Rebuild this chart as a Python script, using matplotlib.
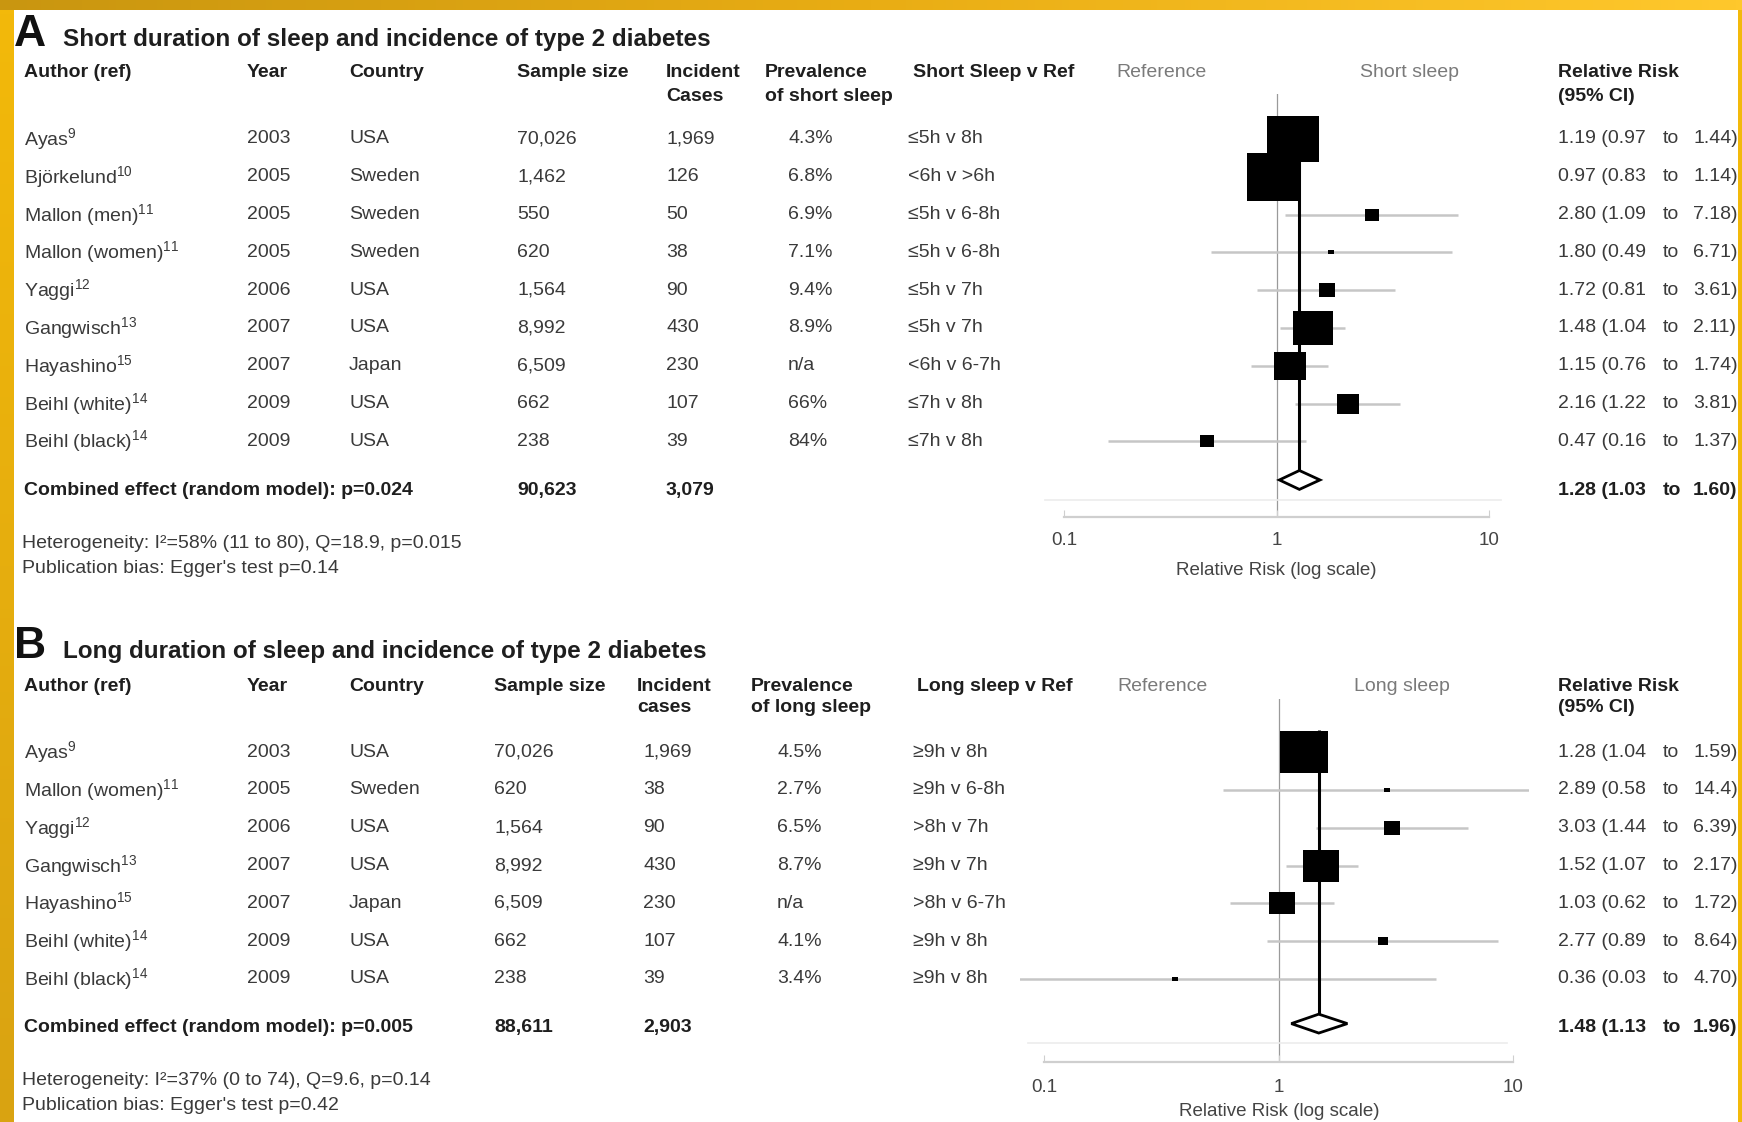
import numpy as np
import matplotlib
matplotlib.use("Agg")
import matplotlib.pyplot as plt
from matplotlib.transforms import blended_transform_factory
from matplotlib.path import Path
from matplotlib.lines import Line2D
from matplotlib.colors import LinearSegmentedColormap

W, H = 1742, 1122

plt.rcParams['font.family'] = ['Liberation Sans', 'DejaVu Sans']
plt.rcParams['mathtext.fontset'] = 'custom'
plt.rcParams['mathtext.rm'] = 'Liberation Sans'
plt.rcParams['mathtext.it'] = 'Liberation Sans:italic'
plt.rcParams['mathtext.bf'] = 'Liberation Sans:bold'

# --------------------------------------------------------------------------
# Panel A: short sleep
a_authors = ['Ayas$^{9}$', 'Björkelund$^{10}$', 'Mallon (men)$^{11}$', 'Mallon (women)$^{11}$',
             'Yaggi$^{12}$', 'Gangwisch$^{13}$', 'Hayashino$^{15}$', 'Beihl (white)$^{14}$',
             'Beihl (black)$^{14}$']
a_years = ['2003', '2005', '2005', '2005', '2006', '2007', '2007', '2009', '2009']
a_countries = ['USA', 'Sweden', 'Sweden', 'Sweden', 'USA', 'USA', 'Japan', 'USA', 'USA']
a_samples = ['70,026', '1,462', '550', '620', '1,564', '8,992', '6,509', '662', '238']
a_cases = ['1,969', '126', '50', '38', '90', '430', '230', '107', '39']
a_prev = ['4.3%', '6.8%', '6.9%', '7.1%', '9.4%', '8.9%', 'n/a', '66%', '84%']
a_compare = ['≤5h v 8h', '<6h v >6h', '≤5h v 6-8h', '≤5h v 6-8h', '≤5h v 7h',
             '≤5h v 7h', '<6h v 6-7h', '≤7h v 8h', '≤7h v 8h']
a_rr = [1.19, 0.97, 2.80, 1.80, 1.72, 1.48, 1.15, 2.16, 0.47]
a_lo = [0.97, 0.83, 1.09, 0.49, 0.81, 1.04, 0.76, 1.22, 0.16]
a_hi = [1.44, 1.14, 7.18, 6.71, 3.61, 2.11, 1.74, 3.81, 1.37]
a_weights = [28.3, 31.6, 2.0, 0.3, 2.8, 16.7, 11.4, 5.1, 1.8]
a_pooled = (1.28, 1.03, 1.60)
a_totals = ('90,623', '3,079')
a_pvalue = 'p=0.024'
a_notes = ['Heterogeneity: I²=58% (11 to 80), Q=18.9, p=0.015',
           "Publication bias: Egger's test p=0.14"]

# Panel B: long sleep
b_authors = ['Ayas$^{9}$', 'Mallon (women)$^{11}$', 'Yaggi$^{12}$', 'Gangwisch$^{13}$',
             'Hayashino$^{15}$', 'Beihl (white)$^{14}$', 'Beihl (black)$^{14}$']
b_years = ['2003', '2005', '2006', '2007', '2007', '2009', '2009']
b_countries = ['USA', 'Sweden', 'USA', 'USA', 'Japan', 'USA', 'USA']
b_samples = ['70,026', '620', '1,564', '8,992', '6,509', '662', '238']
b_cases = ['1,969', '38', '90', '430', '230', '107', '39']
b_prev = ['4.5%', '2.7%', '6.5%', '8.7%', 'n/a', '4.1%', '3.4%']
b_compare = ['≥9h v 8h', '≥9h v 6-8h', '>8h v 7h', '≥9h v 7h', '>8h v 6-7h',
             '≥9h v 8h', '≥9h v 8h']
b_rr = [1.28, 2.89, 3.03, 1.52, 1.03, 2.77, 0.36]
b_lo = [1.04, 0.58, 1.44, 1.07, 0.62, 0.89, 0.03]
b_hi = [1.59, 14.4, 6.39, 2.17, 1.72, 8.64, 4.70]
b_weights = [49.6, 0.6, 5.9, 27.9, 13.5, 1.9, 0.6]
b_pooled = (1.48, 1.13, 1.96)
b_totals = ('88,611', '2,903')
b_pvalue = 'p=0.005'
b_notes = ['Heterogeneity: I²=37% (0 to 74), Q=9.6, p=0.14',
           "Publication bias: Egger's test p=0.42"]

# --------------------------------------------------------------------------
FS = 14
HEAD_INK = '#1e1e1e'
ROW_INK = '#3a3a3a'
SOFT_INK = '#7a7a7a'
CI_GREY = '#c6c6c6'

# slightly wide rectangle used as the study-weight box
BOX = Path([(-1.15, -1), (1.15, -1), (1.15, 1), (-1.15, 1), (-1.15, -1)],
           [Path.MOVETO, Path.LINETO, Path.LINETO, Path.LINETO, Path.CLOSEPOLY])


def fmt_ci(v):
    return f"{v:.1f}" if v >= 10 else f"{v:.2f}"


def draw_panel(fig, d, lay):
    r0, step = lay['row0'], lay['step']
    ybot, ytop = lay['ylim']
    top_px, bot_px = r0 + ytop * step, r0 + ybot * step
    left_px, right_px = lay['ax_x']
    ax = fig.add_axes([left_px / W, 1 - bot_px / H,
                       (right_px - left_px) / W, (bot_px - top_px) / H])
    ax.set_xscale('log')
    p01, p10 = lay['dec']
    dec = (p10 - p01) / 2
    ax.set_xlim(10 ** (-1 + (left_px - p01) / dec), 10 ** (-1 + (right_px - p01) / dec))
    ax.set_ylim(ybot, ytop)
    ax.patch.set_alpha(0)
    for s in ('top', 'left', 'right'):
        ax.spines[s].set_visible(False)
    ax.spines['bottom'].set_bounds(0.1, 10)
    ax.spines['bottom'].set_color('#cfcfcf')
    ax.spines['bottom'].set_linewidth(1.6)
    ax.set_yticks([])
    ax.set_xticks([0.1, 1, 10])
    ax.set_xticklabels(['0.1', '1', '10'])
    ax.minorticks_off()
    ax.tick_params(axis='x', direction='in', length=5, color='#cfcfcf',
                   labelsize=13.5, labelcolor='#444444', pad=lay['tick_pad'])

    tr = blended_transform_factory(fig.transFigure, ax.transData)
    c = lay['cols']

    def put(xpx, row, s, **kw):
        kw.setdefault('color', ROW_INK)
        kw.setdefault('fontsize', FS)
        kw.setdefault('va', 'center')
        fig.text(xpx / W, row, s, transform=tr, **kw)

    # panel letter and title
    put(14, lay['title_row'], d['letter'], fontsize=32, weight='bold',
        color='#111111', va='baseline')
    put(63, lay['title_row'], d['title'], fontsize=17.5, weight='bold',
        color=HEAD_INK, va='baseline')

    # column headers
    h1, h2 = lay['head_rows']
    hk = dict(weight='bold', color=HEAD_INK)
    put(c['author'], h1, 'Author (ref)', **hk)
    put(c['year'], h1, 'Year', **hk)
    put(c['country'], h1, 'Country', **hk)
    put(c['sample'], h1, 'Sample size', **hk)
    put(c['cases_head'], h1, 'Incident', **hk)
    put(c['cases_head'], h2, d['cases_word'], **hk)
    put(c['prev_head'], h1, 'Prevalence', **hk)
    put(c['prev_head'], h2, d['prev_word'], **hk)
    put(c['cmp_head'], h1, d['cmp_head'], **hk)
    put(c['ref'], h1, 'Reference', color=SOFT_INK)
    put(c['side'], h1, d['side_head'], color=SOFT_INK)
    put(c['rr'], h1, 'Relative Risk', **hk)
    put(c['rr'], h2, '(95% CI)', **hk)

    rows = np.arange(len(d['rr']))
    for i in rows:
        put(c['author'], i, d['authors'][i])
        put(c['year'], i, d['years'][i])
        put(c['country'], i, d['countries'][i])
        put(c['sample'], i, d['samples'][i])
        put(c['cases'], i, d['cases'][i])
        put(c['prev'], i, d['prev'][i])
        put(c['cmp'], i, d['compare'][i])
        put(c['rr'], i, f"{d['rr'][i]:.2f} ({fmt_ci(d['lo'][i])}")
        put(c['rr_to'], i, 'to')
        put(c['rr_hi'], i, f"{fmt_ci(d['hi'][i])})")

    # pooled row
    est, lo, hi = d['pooled']
    cr = lay['comb_row']
    bk = dict(weight='bold', color=HEAD_INK)
    put(c['author'], cr, 'Combined effect (random model): ' + d['pvalue'], **bk)
    put(c['sample'], cr, d['totals'][0], **bk)
    put(c['cases'], cr, d['totals'][1], **bk)
    put(c['rr'], cr, f"{est:.2f} ({fmt_ci(lo)}", **bk)
    put(c['rr_to'], cr, 'to', **bk)
    put(c['rr_hi'], cr, f"{fmt_ci(hi)})", **bk)

    for k, note in enumerate(d['notes']):
        put(c['author'] - 2, lay['note_rows'][k], note)

    # forest marks
    ax.axvline(1, color='#9a9a9a', lw=0.9, zorder=1)
    dr, dh = lay['diamond_row'], 0.25
    ax.plot([est, est], [lay['vline_top'], dr - dh], color='black', lw=2.2,
            zorder=2, solid_capstyle='butt')
    ax.hlines(rows, d['lo'], d['hi'], color=CI_GREY, lw=1.8, zorder=1)
    for i in rows:
        side_px = lay['box_scale'] * np.sqrt(d['weights'][i] / 100.0)
        ax.plot(d['rr'][i], i, marker=BOX, markersize=side_px * 0.72,
                color='black', mew=0, zorder=3, clip_on=False)
    ax.fill([lo, est, hi, est], [dr, dr - dh, dr, dr + dh], facecolor='white',
            edgecolor='black', lw=2.0, zorder=4)

    fx0, fx1, fr = lay['faint']
    fig.add_artist(Line2D([fx0 / W, fx1 / W], [fr, fr], transform=tr,
                          color='#ececec', lw=1.2))
    ax.text(1, lay['xlabel_row'], 'Relative Risk (log scale)', ha='center',
            va='center', fontsize=13.5, color='#444444', clip_on=False)


fig = plt.figure(figsize=(W / 100, H / 100), dpi=100)
fig.patch.set_facecolor('white')

panel_a = dict(letter='A', title='Short duration of sleep and incidence of type 2 diabetes',
               cases_word='Cases', prev_word='of short sleep', cmp_head='Short Sleep v Ref',
               side_head='Short sleep', authors=a_authors, years=a_years,
               countries=a_countries, samples=a_samples, cases=a_cases, prev=a_prev,
               compare=a_compare, rr=a_rr, lo=a_lo, hi=a_hi, weights=a_weights,
               pooled=a_pooled, totals=a_totals, pvalue=a_pvalue, notes=a_notes)
layout_a = dict(row0=139, step=37.8, ylim=(10.0, -1.2), ax_x=(1064, 1489),
                dec=(1064.4, 1488.9), head_rows=(-1.75, -1.12), title_row=-2.46,
                comb_row=9.3, diamond_row=9.02, note_rows=(10.7, 11.37),
                xlabel_row=11.42, tick_pad=11, faint=(1045, 1501, 9.55),
                vline_top=-0.6, box_scale=97.7,
                cols=dict(author=24, year=247, country=349, sample=517, cases=666,
                          cases_head=666, prev_head=765, prev=788, cmp=908,
                          cmp_head=913, ref=1116, side=1360, rr=1558, rr_to=1663,
                          rr_hi=1693))

panel_b = dict(letter='B', title='Long duration of sleep and incidence of type 2 diabetes',
               cases_word='cases', prev_word='of long sleep', cmp_head='Long sleep v Ref',
               side_head='Long sleep', authors=b_authors, years=b_years,
               countries=b_countries, samples=b_samples, cases=b_cases, prev=b_prev,
               compare=b_compare, rr=b_rr, lo=b_lo, hi=b_hi, weights=b_weights,
               pooled=b_pooled, totals=b_totals, pvalue=b_pvalue, notes=b_notes)
layout_b = dict(row0=752.2, step=37.8, ylim=(8.2, -1.4), ax_x=(1020, 1529),
                dec=(1044.4, 1513.3), head_rows=(-1.75, -1.17), title_row=-2.5,
                comb_row=7.28, diamond_row=7.18, note_rows=(8.68, 9.34),
                xlabel_row=9.5, tick_pad=12, faint=(1028, 1507, 7.69),
                vline_top=-0.6, box_scale=68.2,
                cols=dict(author=24, year=247, country=349, sample=494, cases=643,
                          cases_head=637, prev_head=751, prev=777, cmp=913,
                          cmp_head=917, ref=1117, side=1354, rr=1558, rr_to=1663,
                          rr_hi=1693))

draw_panel(fig, panel_a, layout_a)
draw_panel(fig, panel_b, layout_b)

# golden frame along the top, left and right edges
top_cmap = LinearSegmentedColormap.from_list('top', ['#c99610', '#e9ad14', '#ffc82c'])
left_cmap = LinearSegmentedColormap.from_list('left', ['#d9a312', '#f3b90a'])
grad = np.linspace(0, 1, 256)
for rect, cmap, arr in [([0, 1 - 10 / H, 1, 10 / H], top_cmap, grad[None, :]),
                        ([0, 0, 13 / W, 1 - 10 / H], left_cmap, grad[::-1, None]),
                        ([1 - 4 / W, 0, 4 / W, 1 - 10 / H], left_cmap, np.ones((2, 1)))]:
    bax = fig.add_axes(rect, zorder=10)
    bax.imshow(arr, cmap=cmap, aspect='auto', vmin=0, vmax=1)
    bax.set_axis_off()

fig.savefig('out.png', dpi=100)
